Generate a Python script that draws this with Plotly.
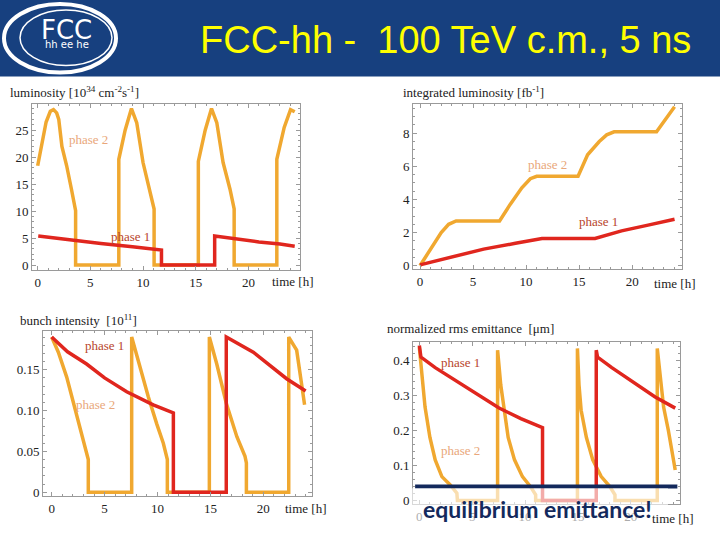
import plotly.graph_objects as go

# ---------------- data ----------------
lum_p2_t = [0, 0.4, 0.8, 1.2, 1.5, 1.8, 2.0, 2.3, 2.75, 3.2, 3.6, 3.6, 7.7, 7.7, 8.3, 8.9, 9.4, 10.0, 10.6, 11.05, 11.05,
            15.25, 15.25, 15.9, 16.5, 17.0, 17.6, 18.25, 18.65, 18.65, 22.7, 22.7, 23.4, 24.0, 24.4]
lum_p2 = [18.4, 22.5, 26.5, 28.5, 28.8, 28.2, 27.0, 22.0, 18.4, 14.1, 10.1, 0, 0, 19.6, 25.0, 29.0, 26.4, 19.0, 14.1, 10.4, 0,
          0, 19.2, 25.0, 29.0, 26.4, 19.0, 14.1, 10.4, 0, 0, 19.6, 25.5, 28.8, 28.4]
lum_p1_t = [0.05, 3.6, 6.0, 9.0, 11.75, 11.75, 16.8, 16.8, 19.0, 21.0, 23.0, 24.4]
lum_p1 = [5.4, 4.5, 4.0, 3.4, 2.8, 0, 0, 5.4, 4.8, 4.3, 3.9, 3.5]

int_p2_t = [0, 1.1, 2.0, 2.7, 3.4, 7.5, 8.5, 9.6, 10.4, 11.0, 14.9, 15.8, 16.9, 17.6, 18.3, 22.3, 23.0, 23.5, 24.0]
int_p2 = [0, 1.1, 2.0, 2.5, 2.7, 2.7, 3.7, 4.7, 5.25, 5.4, 5.4, 6.7, 7.5, 7.9, 8.08, 8.08, 8.7, 9.2, 9.6]
int_p1_t = [0, 3, 6, 9, 11.5, 16.5, 19, 21.5, 24]
int_p1 = [0.05, 0.55, 1.0, 1.35, 1.64, 1.64, 2.1, 2.45, 2.8]

bi_p2_t = [0, 0.63, 1.42, 2.05, 2.68, 3.15, 3.46, 3.46, 7.56, 7.56, 8.35, 9.13, 9.92, 10.55, 10.93, 10.93,
           14.9, 14.9, 15.6, 16.5, 17.5, 18.27, 18.4, 18.4, 22.4, 22.4, 23.15, 23.9]
bi_p2 = [0.19, 0.1715, 0.141, 0.109, 0.080, 0.056, 0.040, 0, 0, 0.19, 0.153, 0.117, 0.084, 0.060, 0.040, 0,
         0, 0.19, 0.157, 0.109, 0.068, 0.044, 0.036, 0, 0, 0.19, 0.174, 0.107]
bi_p1_t = [0, 1.5, 3.3, 5.0, 7.09, 9.6, 11.5, 11.5, 16.5, 16.5, 19.05, 22.2, 24.0]
bi_p1 = [0.19, 0.172, 0.157, 0.140, 0.123, 0.107, 0.097, 0, 0, 0.19, 0.1715, 0.139, 0.124]

em_p2_t = [0, 0.22, 0.54, 1.0, 1.5, 2.13, 2.9, 3.55, 3.6, 7.4, 7.4, 7.7, 8.0, 8.4, 9.0, 9.75, 10.5, 11.0, 11.0,
           14.95, 14.95, 15.1, 15.3, 15.8, 16.4, 17.2, 18.0, 18.5, 18.5, 22.5, 22.5, 22.8, 23.1, 23.55, 24.2]
em_p2 = [0.438, 0.362, 0.267, 0.18, 0.116, 0.068, 0.045, 0.021, 0, 0, 0.43, 0.33, 0.26, 0.18, 0.116, 0.068, 0.04, 0.016, 0,
         0, 0.435, 0.33, 0.258, 0.18, 0.116, 0.068, 0.04, 0.016, 0, 0, 0.435, 0.34, 0.267, 0.2, 0.087]
em_p1_t = [0, 0.15, 1.5, 3.87, 7.5, 9.6, 11.65, 11.65, 16.73, 16.73, 16.85, 18.2, 19.75, 22.3, 24.2]
em_p1 = [0.443, 0.41, 0.38, 0.335, 0.265, 0.234, 0.208, 0, 0, 0.43, 0.41, 0.38, 0.348, 0.296, 0.264]
em_equilibrium = 0.04

x_ticks = [0, 5, 10, 15, 20]
y1_ticks = [0, 5, 10, 15, 20, 25]
y2_ticks = [0, 2, 4, 6, 8]
y3_ticks = [0, 0.05, 0.10, 0.15]
y3_text = ["0", "0.05", "0.10", "0.15"]
y4_ticks = [0, 0.1, 0.2, 0.3, 0.4]
y4_text = ["0", "0.1", "0.2", "0.3", "0.4"]

# ---------------- style ----------------
W, H = 720, 540
ORANGE = "#f0a830"
RED = "#e0261e"
NAVY = "#13295c"
HEADER = "#17407f"
SERIF = "Liberation Serif"

def px(x):
    return x / W

def py(y):
    return 1 - y / H

fig = go.Figure()

panels = [
    ("x", "y", (32, 300), (105, 272), [-0.54, 24.9], [-0.9, 29.8]),
    ("x2", "y2", (413, 682), (105, 271), [-0.66, 24.7], [-0.2, 9.75]),
    ("x3", "y3", (43, 312), (333, 500), [-0.82, 24.6], [-0.005, 0.198]),
    ("x4", "y4", (413, 680), (345, 508), [-0.6, 24.65], [-0.011, 0.452]),
]

series = [
    (lum_p2_t, lum_p2, ORANGE, 0), (lum_p1_t, lum_p1, RED, 0),
    (int_p2_t, int_p2, ORANGE, 1), (int_p1_t, int_p1, RED, 1),
    (bi_p2_t, bi_p2, ORANGE, 2), (bi_p1_t, bi_p1, RED, 2),
    (em_p2_t, em_p2, ORANGE, 3), (em_p1_t, em_p1, RED, 3),
]
for t, v, c, i in series:
    xa, ya = panels[i][0], panels[i][1]
    fig.add_trace(go.Scatter(x=t, y=v, mode="lines", line=dict(color=c, width=3.5),
                             xaxis=xa, yaxis=ya, showlegend=False, hoverinfo="skip"))

ytick_sets = [
    (y1_ticks, [str(v) for v in y1_ticks], 1),
    (y2_ticks, [str(v) for v in y2_ticks], 0.5),
    (y3_ticks, y3_text, 0.01),
    (y4_ticks, y4_text, 0.02),
]

layout = {}
for i, (xa, ya, (x0, x1), (y0, y1), xr, yr) in enumerate(panels):
    xname = "xaxis" + ("" if i == 0 else str(i + 1))
    yname = "yaxis" + ("" if i == 0 else str(i + 1))
    tv, tt, mdt = ytick_sets[i]
    common = dict(showgrid=False, zeroline=False, showline=True, linecolor="#9a9a9a", linewidth=1,
                  mirror="allticks", ticks="inside", ticklen=4, tickcolor="#9a9a9a",
                  tickfont=dict(family=SERIF, size=13, color="#222"))
    layout[xname] = dict(common, domain=[px(x0), px(x1)], range=xr, anchor=ya,
                         tickvals=x_ticks, ticktext=[str(v) for v in x_ticks],
                         minor=dict(ticks="inside", ticklen=2, dtick=1, tick0=0, tickcolor="#9a9a9a"))
    layout[yname] = dict(common, domain=[py(y1), py(y0)], range=yr, anchor=xa,
                         tickvals=tv, ticktext=tt,
                         minor=dict(ticks="inside", ticklen=2, dtick=mdt, tick0=0, tickcolor="#9a9a9a"))

fig.update_layout(width=W, height=H, margin=dict(l=0, r=0, t=0, b=0),
                  font=dict(family=SERIF, size=13, color="#222"),
                  paper_bgcolor="white", plot_bgcolor="white", showlegend=False, **layout)

shapes = [
    dict(type="rect", xref="paper", yref="paper", x0=0, x1=1, y0=py(77), y1=1,
         fillcolor=HEADER, line=dict(width=0), layer="below"),
    dict(type="circle", xref="paper", yref="paper", x0=px(4), x1=px(116), y0=py(73), y1=py(4),
         line=dict(color="white", width=4)),
    dict(type="circle", xref="paper", yref="paper", x0=px(20), x1=px(112), y0=py(66), y1=py(10),
         line=dict(color="white", width=1.5)),
    dict(type="line", xref="x4", yref="y4", x0=-0.4, x1=24.4, y0=em_equilibrium, y1=em_equilibrium,
         line=dict(color=NAVY, width=4), layer="above"),
    dict(type="rect", xref="paper", yref="paper", x0=px(412), x1=px(668), y0=py(533), y1=py(492),
         fillcolor="rgba(255,255,255,0.62)", line=dict(width=0), layer="above"),
]
fig.update_layout(shapes=shapes)

ann = []
def text(x, y, s, size=13, color="#222", family=SERIF, xanchor="left", ref=("paper", "paper")):
    ann.append(dict(x=x, y=y, xref=ref[0], yref=ref[1], text=s, showarrow=False,
                    font=dict(family=family, size=size, color=color), xanchor=xanchor, yanchor="middle"))

# header
text(px(445), py(40), "FCC-hh -\u00a0 100 TeV c.m., 5 ns", size=38, color="#ffff00",
     family="Liberation Sans", xanchor="center")
text(px(66), py(30), "FCC", size=26, color="white", family="DejaVu Sans", xanchor="center")
text(px(67), py(45), "hh ee he", size=10, color="white", family="DejaVu Sans", xanchor="center")

# axis titles
text(px(8), py(93), "luminosity [10<sup>34</sup> cm<sup>-2</sup>s<sup>-1</sup>]")
text(px(401), py(93), "integrated luminosity [fb<sup>-1</sup>]")
text(px(18), py(322), "bunch intensity  [10<sup>11</sup>]")
text(px(385), py(331), "normalized rms emittance  [μm]")
text(px(270), py(284), "time [h]")
text(px(652), py(286), "time [h]")
text(px(283), py(512), "time [h]")
text(px(650), py(522), "time [h]")

# phase labels
P2C, P1C = "#e9a77a", "#b8452c"
text(4.8, 23.3, "phase 2", color=P2C, xanchor="center", ref=("x", "y"))
text(8.8, 5.3, "phase 1", color=P1C, xanchor="center", ref=("x", "y"))
text(12.0, 6.1, "phase 2", color=P2C, xanchor="center", ref=("x2", "y2"))
text(16.8, 2.65, "phase 1", color=P1C, xanchor="center", ref=("x2", "y2"))
text(5.0, 0.18, "phase 1", color=P1C, xanchor="center", ref=("x3", "y3"))
text(4.1, 0.107, "phase 2", color=P2C, xanchor="center", ref=("x3", "y3"))
text(3.85, 0.395, "phase 1", color=P1C, xanchor="center", ref=("x4", "y4"))
text(3.85, 0.142, "phase 2", color=P2C, xanchor="center", ref=("x4", "y4"))

text(px(537), py(513), "<b>equilibrium emittance!</b>", size=23, color=NAVY,
     family="Lato", xanchor="center")

fig.update_layout(annotations=ann)
fig.write_html("out.html", config={"displayModeBar": False},
               post_script="document.body.style.margin='0';document.body.style.padding='0';")
